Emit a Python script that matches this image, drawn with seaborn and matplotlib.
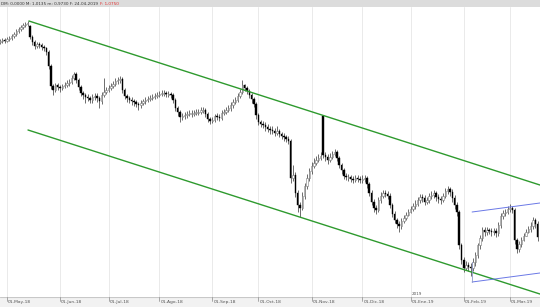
import numpy as np
import pandas as pd
import matplotlib
matplotlib.use("Agg")
import matplotlib.pyplot as plt
import seaborn as sns

# ---- data (price levels measured downward, chart axis is inverted) ----
start_day = "2018-04-26"
opens = [42, 41, 40, 41, 39, 38, 36, 34, 31, 29,
         27, 25, 24, 26, 37, 42, 46, 44, 45, 47,
         48, 52, 66, 86, 90, 85, 87, 88, 86, 85,
         83, 82, 78, 74, 80, 87, 93, 95, 97, 98,
         100, 97, 96, 98, 101, 95, 92, 90, 88, 86,
         84, 81, 80, 79, 90, 96, 98, 100, 101, 102,
         104, 105, 103, 101, 100, 99, 98, 97, 96, 95,
         94, 93, 93, 94, 94, 95, 100, 108, 112, 117,
         116, 115, 114, 113, 113, 113, 112, 112, 110, 110,
         114, 119, 121, 120, 116, 117, 118, 113, 112, 110,
         108, 105, 102, 100, 96, 92, 85, 88, 91, 95,
         99, 104, 115, 122, 124, 125, 127, 129, 130, 131,
         133, 131, 134, 136, 137, 139, 141, 178, 175, 193,
         205, 208, 196, 186, 178, 171, 166, 163, 160, 158,
         116, 155, 157, 160, 157, 154, 152, 158, 165, 170,
         176, 177, 177, 179, 180, 178, 179, 180, 179, 178,
         184, 193, 202, 208, 210, 200, 196, 193, 194, 196,
         205, 214, 220, 224, 226, 221, 218, 215, 212, 209,
         206, 204, 200, 197, 198, 202, 200, 196, 195, 193,
         197, 199, 200, 196, 191, 189, 192, 198, 205, 212,
         245, 260, 268, 265, 267, 268, 262, 255, 245, 238,
         230, 232, 230, 231, 232, 231, 233, 225, 216, 213,
         212, 209, 208, 210, 240, 249, 244, 240, 236, 232,
         229, 226, 220, 224]
highs = [39, 38, 38, 37, 36, 34, 32, 29, 27, 25,
         23, 22, 21, 25, 35, 40, 42, 42, 43, 45,
         47, 50, 64, 84, 83, 83, 85, 84, 82, 80,
         79, 75, 72, 72, 78, 85, 91, 93, 94, 96,
         94, 93, 93, 96, 92, 78, 87, 85, 83, 81,
         78, 77, 76, 77, 88, 94, 96, 97, 99, 100,
         102, 100, 99, 97, 96, 95, 94, 93, 92, 91,
         90, 90, 91, 91, 92, 93, 98, 106, 110, 113,
         112, 111, 110, 110, 110, 109, 109, 107, 107, 108,
         112, 117, 117, 114, 113, 114, 110, 109, 107, 105,
         102, 99, 97, 93, 89, 80, 84, 86, 89, 93,
         97, 102, 113, 120, 121, 122, 124, 126, 126, 128,
         126, 129, 132, 133, 135, 136, 139, 165, 172, 190,
         202, 192, 183, 174, 168, 162, 158, 156, 154, 152,
         115, 152, 154, 153, 151, 149, 150, 156, 163, 168,
         173, 174, 175, 176, 175, 175, 176, 175, 175, 176,
         182, 190, 199, 205, 197, 192, 190, 190, 191, 193,
         203, 211, 218, 221, 218, 215, 212, 209, 206, 203,
         200, 197, 194, 194, 195, 197, 193, 191, 190, 191,
         194, 196, 193, 188, 186, 187, 189, 195, 202, 210,
         243, 257, 261, 262, 263, 258, 252, 243, 235, 227,
         227, 227, 228, 228, 228, 228, 222, 213, 210, 209,
         206, 204, 206, 208, 238, 241, 237, 233, 229, 226,
         222, 217, 218, 221]
lows = [44, 43, 43, 42, 41, 40, 38, 36, 33, 31,
        29, 27, 26, 39, 45, 49, 48, 48, 50, 51,
        55, 69, 89, 95, 92, 90, 92, 90, 88, 87,
        86, 84, 80, 83, 90, 96, 99, 103, 101, 103,
        103, 100, 102, 108, 104, 97, 94, 92, 90, 88,
        86, 84, 83, 93, 99, 102, 103, 105, 106, 107,
        110, 108, 105, 104, 102, 101, 100, 99, 98, 97,
        96, 96, 97, 97, 98, 103, 111, 116, 122, 120,
        119, 118, 116, 117, 116, 115, 115, 114, 113, 117,
        122, 124, 123, 122, 120, 121, 120, 115, 114, 112,
        111, 108, 104, 102, 98, 94, 91, 94, 98, 103,
        107, 119, 125, 127, 128, 131, 132, 134, 134, 136,
        135, 137, 139, 141, 142, 144, 183, 181, 197, 212,
        217, 210, 199, 189, 181, 174, 168, 165, 162, 160,
        158, 161, 164, 162, 159, 156, 161, 168, 174, 179,
        180, 181, 182, 183, 182, 182, 183, 183, 182, 188,
        196, 205, 212, 214, 212, 203, 198, 197, 199, 208,
        217, 223, 228, 232, 229, 223, 220, 216, 213, 211,
        209, 206, 203, 202, 205, 204, 203, 199, 198, 201,
        203, 204, 202, 198, 194, 196, 202, 209, 216, 249,
        264, 272, 270, 271, 276, 271, 266, 258, 249, 241,
        236, 235, 234, 236, 235, 237, 236, 228, 219, 216,
        214, 212, 213, 244, 253, 252, 247, 241, 236, 233,
        232, 229, 228, 241]
closes = [41, 40, 41, 39, 38, 36, 34, 31, 29, 27,
          25, 24, 23, 37, 42, 46, 44, 45, 47, 48,
          52, 66, 86, 90, 85, 87, 88, 86, 85, 83,
          82, 78, 74, 80, 87, 93, 95, 97, 98, 100,
          97, 96, 98, 101, 95, 92, 90, 88, 86, 84,
          81, 80, 79, 90, 96, 98, 100, 101, 102, 104,
          105, 103, 101, 100, 99, 98, 97, 96, 95, 94,
          93, 93, 94, 94, 95, 100, 108, 112, 117, 116,
          115, 114, 113, 113, 113, 112, 112, 110, 110, 114,
          119, 121, 120, 116, 117, 118, 113, 112, 110, 108,
          105, 102, 100, 96, 92, 85, 88, 91, 95, 99,
          104, 115, 122, 124, 125, 127, 129, 130, 131, 133,
          131, 134, 136, 137, 139, 141, 178, 175, 193, 205,
          208, 196, 186, 178, 171, 166, 163, 160, 158, 156,
          155, 157, 160, 157, 154, 152, 158, 165, 170, 176,
          177, 177, 179, 180, 178, 179, 180, 179, 178, 184,
          193, 202, 208, 210, 200, 196, 193, 194, 196, 205,
          214, 220, 224, 226, 221, 218, 215, 212, 209, 206,
          204, 200, 197, 198, 202, 200, 196, 195, 193, 197,
          199, 200, 196, 191, 189, 192, 198, 205, 212, 245,
          260, 268, 265, 267, 268, 262, 255, 245, 238, 230,
          232, 230, 231, 232, 231, 233, 225, 216, 213, 212,
          209, 208, 210, 240, 249, 244, 240, 236, 232, 229,
          226, 220, 224, 237]

# channel lines: (bar offset from first bar, level)
green_upper = [(12.5, 21), (234.0, 185)]
green_lower = [(12.1, 130), (234.0, 294)]
blue_upper = [(204.6, 212), (234.0, 203)]
blue_lower = [(204.6, 282), (234.0, 273)]
blue_stem = [(204.6, 262), (204.6, 282)]

month_labels = ["01-May-18", "01-Jun-18", "01-Jul-18", "01-Ago-18", "01-Sep-18",
                "01-Oct-18", "01-Nov-18", "01-Dic-18", "01-Ene-19", "01-Feb-19",
                "01-Mar-19"]
header_main = "DM: 0,0000 M: 1,0135 m: 0,9730 F: 24-04-2019"
header_red = "F: 1,0750"

# ---- build ----
n = len(closes)
dates = pd.bdate_range(start_day, periods=n)
df = pd.DataFrame({"date": dates, "open": opens, "high": highs, "low": lows, "close": closes})
df["x"] = np.arange(n)

sns.set_style("white")
W, H = 540, 307
fig = plt.figure(figsize=(W / 100, H / 100), dpi=100)
fig.patch.set_facecolor("white")

top_px, bot_px = 7, 297
ax = fig.add_axes([0, (H - bot_px) / H, 1, (bot_px - top_px) / H])
ax.set_facecolor("white")

# month ticks
month_pos = []
for m in pd.date_range("2018-05-01", "2019-03-01", freq="MS"):
    idx = int(np.searchsorted(dates.values, np.datetime64(m)))
    month_pos.append(idx)
for p in month_pos:
    ax.axvline(p, color="#e6e6e6", lw=0.6, zorder=0)

up = df["close"] <= df["open"]
# wicks
ax.vlines(df["x"], df["high"], df["low"], color="#333333", lw=0.5, zorder=2)
bw = 0.62
body_lo = np.minimum(df["open"], df["close"])
body_h = np.maximum(np.abs(df["close"] - df["open"]), 0.6)
ax.bar(df["x"][up], body_h[up], bottom=body_lo[up], width=bw, color="white",
       edgecolor="#777777", linewidth=0.4, zorder=3)
ax.bar(df["x"][~up], body_h[~up], bottom=body_lo[~up], width=bw, color="black",
       edgecolor="black", linewidth=0.3, zorder=3)

def seg(pts, color, lw):
    d = pd.DataFrame(pts, columns=["x", "y"])
    sns.lineplot(data=d, x="x", y="y", ax=ax, color=color, lw=lw, zorder=4,
                 sort=False, estimator=None)

seg(green_upper, "#2e9a2e", 1.0)
seg(green_lower, "#2e9a2e", 1.0)
seg(blue_upper, "#6a78e6", 0.7)
seg(blue_lower, "#6a78e6", 0.7)
seg(blue_stem, "#8f99c8", 0.6)

px_per_bar = 2.307
x0 = month_pos[0] - 7 / px_per_bar
ax.set_xlim(x0, x0 + W / px_per_bar)
ax.set_ylim(bot_px, top_px)
ax.set_xticks([])
ax.set_yticks([])
ax.set_xlabel("")
ax.set_ylabel("")
for s in ax.spines.values():
    s.set_visible(False)

# bottom date strip
axb = fig.add_axes([0, 0, 1, (H - bot_px) / H])
axb.set_xlim(ax.get_xlim())
axb.set_ylim(10, 0)
axb.set_facecolor("#f2f2f2")
axb.axhline(0.3, color="#c8c8c8", lw=0.8)
for p, lab in zip(month_pos, month_labels):
    axb.plot([p, p], [0, 3.5], color="#888888", lw=0.5)
    axb.text(p + 0.5, 5.0, lab, fontsize=3.2, color="#555555", va="center", ha="left")
axb.text(month_pos[8] + 0.5, -2.6, "2019", fontsize=3.0, color="#555555", va="center",
         ha="left", clip_on=False)
axb.set_xticks([]); axb.set_yticks([])
for s in axb.spines.values():
    s.set_visible(False)

# header strip
axh = fig.add_axes([0, (H - top_px) / H, 1, top_px / H])
axh.set_xlim(0, W); axh.set_ylim(top_px, 0)
axh.set_facecolor("#dcdcdc")
t = axh.text(1, 3.6, header_main, fontsize=3.0, color="#333333", va="center", ha="left")
fig.canvas.draw()
bb = t.get_window_extent()
axh.text(bb.x1 + 2, 3.6, header_red, fontsize=3.0, color="#e03030", va="center", ha="left")
axh.set_xticks([]); axh.set_yticks([])
for s in axh.spines.values():
    s.set_visible(False)

fig.savefig("out.png", dpi=100)
